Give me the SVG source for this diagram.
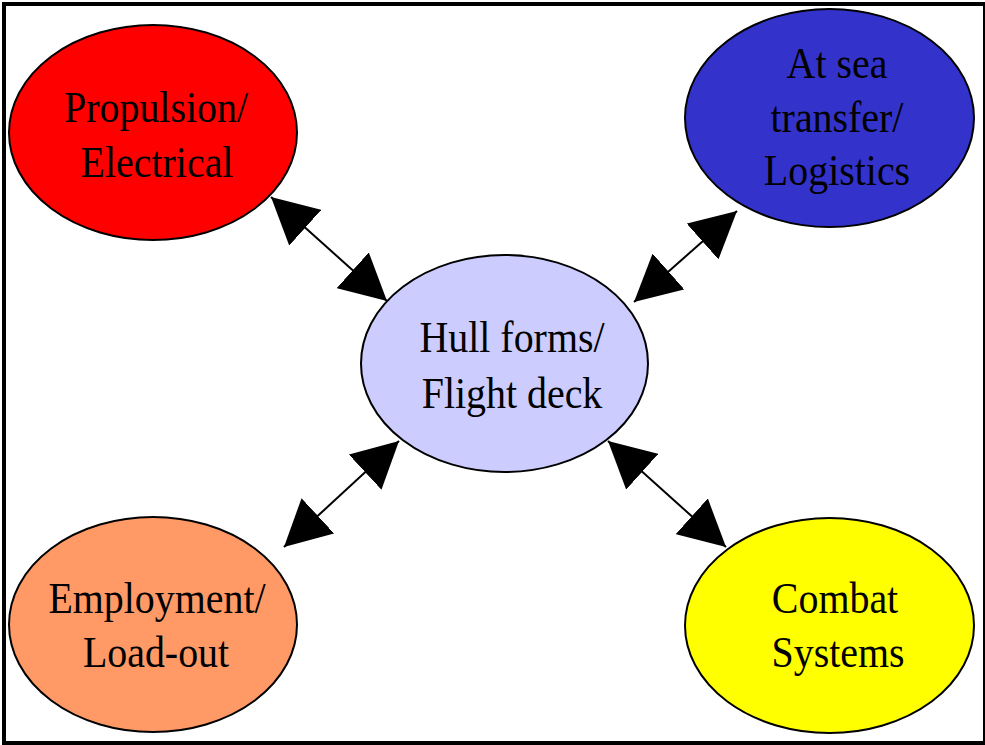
<svg xmlns="http://www.w3.org/2000/svg" width="985" height="745" viewBox="0 0 985 745">
  <style>
    .node ellipse { stroke: #000; stroke-width: 2; }
    .node text { font-family: "Liberation Serif", "Times New Roman", serif; font-size: 45px; fill: #000; text-anchor: middle; }
    .link { stroke: #000; stroke-width: 2; fill: none; marker-start: url(#head); marker-end: url(#head); }
  </style>
  <defs>
    <marker id="head" viewBox="0 0 46 48" refX="46" refY="24" markerWidth="46" markerHeight="48" markerUnits="userSpaceOnUse" orient="auto-start-reverse">
      <path d="M0,0 L46,24 L0,48 Z" fill="#000"/>
    </marker>
  </defs>

  <rect x="4" y="4" width="981" height="739" fill="#fff" stroke="#000" stroke-width="4"/>

  <g id="connectors">
    <line class="link" x1="271" y1="197" x2="387" y2="301"/>
    <line class="link" x1="737" y1="211" x2="634" y2="302"/>
    <line class="link" x1="284" y1="547" x2="399" y2="441"/>
    <line class="link" x1="726" y1="547" x2="608" y2="441"/>
  </g>

  <!-- labels use a narrowed serif: scale(0.887,1) about each label's centre -->
  <g id="propulsion" class="node">
    <ellipse cx="153" cy="132.5" rx="144" ry="107.5" fill="#FF0000"/>
    <text transform="translate(156,122) scale(0.887,1)">Propulsion/</text>
    <text transform="translate(157,177) scale(0.887,1)">Electrical</text>
  </g>

  <g id="logistics" class="node">
    <ellipse cx="829.5" cy="118" rx="144.5" ry="109" fill="#3333CC"/>
    <text transform="translate(837,78) scale(0.887,1)">At sea</text>
    <text transform="translate(837,132) scale(0.887,1)">transfer/</text>
    <text transform="translate(837,185) scale(0.887,1)">Logistics</text>
  </g>

  <g id="hull" class="node">
    <ellipse cx="504.5" cy="363.5" rx="143.5" ry="108.5" fill="#CCCCFF"/>
    <text transform="translate(512,352) scale(0.887,1)">Hull forms/</text>
    <text transform="translate(512,408) scale(0.887,1)">Flight deck</text>
  </g>

  <g id="employment" class="node">
    <ellipse cx="153" cy="624.5" rx="144" ry="107.5" fill="#FF9966"/>
    <text transform="translate(157,613) scale(0.887,1)">Employment/</text>
    <text transform="translate(156,667) scale(0.887,1)">Load-out</text>
  </g>

  <g id="combat" class="node">
    <ellipse cx="829.5" cy="625.5" rx="144.5" ry="107.5" fill="#FFFF00"/>
    <text transform="translate(835,613) scale(0.887,1)">Combat</text>
    <text transform="translate(838,667) scale(0.887,1)">Systems</text>
  </g>
</svg>
